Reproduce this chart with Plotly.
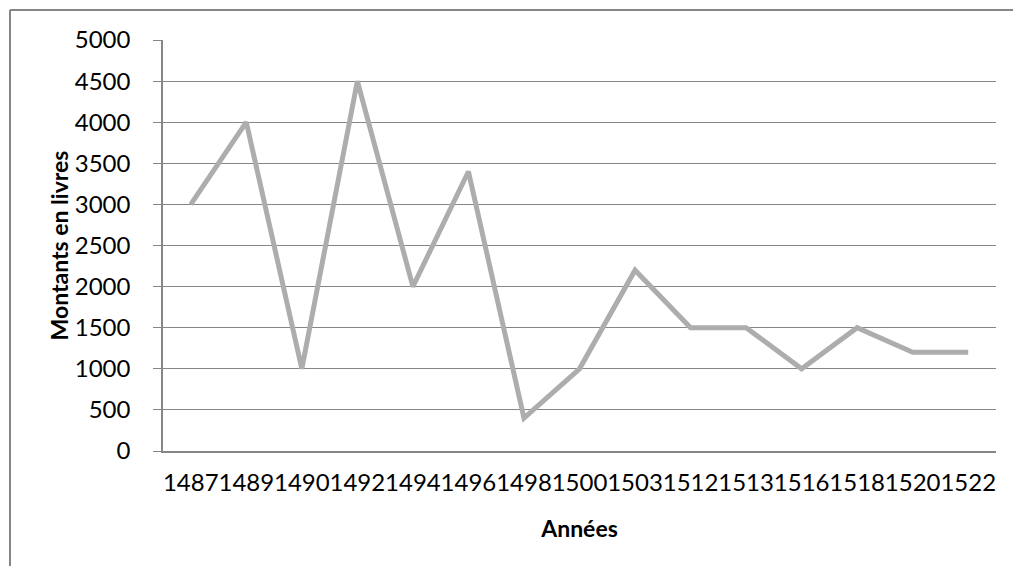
import plotly.graph_objects as go

years = ["1487", "1489", "1490", "1492", "1494", "1496", "1498", "1500",
         "1503", "1512", "1513", "1516", "1518", "1520", "1522"]
amounts = [3000, 4000, 1000, 4500, 2000, 3400, 400, 1000,
           2200, 1500, 1500, 1000, 1500, 1200, 1200]
y_ticks = [0, 500, 1000, 1500, 2000, 2500, 3000, 3500, 4000, 4500, 5000]

W, H = 1013, 566
L, R, T, B = 163, 17, 40, 115
pw, ph = W - L - R, H - T - B

def px(x):
    return (x - L) / pw

def py(y):
    return (H - B - y) / ph

grid = "#868686"
font_family = "Lato, 'Open Sans', sans-serif"

fig = go.Figure()
fig.add_trace(go.Scatter(
    x=years, y=amounts, mode="lines",
    line=dict(color="#ADADAD", width=5),
    hoverinfo="x+y", showlegend=False,
))

fig.update_layout(
    width=W, height=H,
    margin=dict(l=L, r=R, t=T, b=B, pad=0),
    paper_bgcolor="white", plot_bgcolor="white",
    font=dict(family=font_family, size=24, color="black"),
    xaxis=dict(
        type="category", range=[-0.5, len(years) - 0.5],
        showgrid=False, showline=True, linecolor=grid, linewidth=1.5,
        ticks="", tickangle=0, tickfont=dict(size=24), ticklabelstandoff=9,
        title=dict(text="<b>Années</b>", font=dict(size=23), standoff=26),
        zeroline=False, fixedrange=True,
    ),
    yaxis=dict(
        range=[0, 5000], tickvals=y_ticks, showgrid=True, gridcolor=grid, gridwidth=1.3,
        showline=True, linecolor=grid, linewidth=1.5, ticks="outside", ticklen=8,
        tickcolor=grid, tickwidth=1.3, tickfont=dict(size=24), ticklabelstandoff=18,
        title=dict(text="<b>Montants en livres</b>", font=dict(size=23), standoff=0),
        zeroline=False, fixedrange=True,
    ),
    shapes=[
        dict(type="line", xref="paper", yref="paper", x0=px(10), x1=px(10),
             y0=py(10), y1=py(620), line=dict(color=grid, width=2)),
        dict(type="line", xref="paper", yref="paper", x0=px(10), x1=px(1040),
             y0=py(10), y1=py(10), line=dict(color=grid, width=2)),
    ],
)

fig.write_html(
    "out.html",
    config={"displayModeBar": False},
    post_script="document.body.style.margin='0';document.body.style.overflow='hidden';",
)
